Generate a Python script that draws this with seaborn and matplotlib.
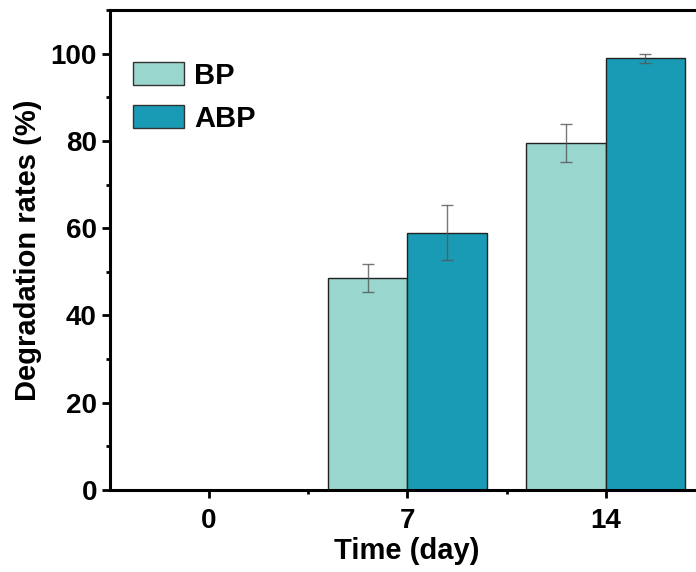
import numpy as np
import pandas as pd
import seaborn as sns
from matplotlib import pyplot as plt
from matplotlib.ticker import MultipleLocator
from matplotlib.patches import Patch

# 데이터
days = ['0', '7', '14']
bp_vals = [0, 48.6, 79.5]
abp_vals = [0, 59.0, 98.9]
bp_err = [0, 3.3, 4.3]
abp_err = [0, 6.4, 1.1]
groups = ['BP', 'ABP']
colors = ['#98D6CE', '#1A9BB5']

sns.set_theme(style='ticks')
plt.rcParams['font.family'] = ['Liberation Sans', 'DejaVu Sans']
plt.rcParams['font.weight'] = 'bold'
plt.rcParams['text.color'] = 'black'
plt.rcParams['axes.labelcolor'] = 'black'
plt.rcParams['xtick.color'] = 'black'
plt.rcParams['ytick.color'] = 'black'
plt.rcParams['axes.edgecolor'] = 'black'

df = pd.DataFrame({
    'day': days * 2,
    'group': ['BP'] * 3 + ['ABP'] * 3,
    'value': bp_vals + abp_vals,
})

fig = plt.figure(figsize=(6.96, 5.72), dpi=100)
ax = fig.add_axes([109.5 / 696, 1 - 490 / 572, 595.5 / 696, 480 / 572])

sns.barplot(data=df, x='day', y='value', hue='group', order=days, hue_order=groups,
            palette=colors, errorbar=None, edgecolor='#222222', linewidth=1.0,
            saturation=1, ax=ax, legend=False)

# 오차 막대
errs = [bp_err, abp_err]
for cont, err in zip(ax.containers, errs):
    for bar, e in zip(cont, err):
        if e == 0:
            continue
        cx = bar.get_x() + bar.get_width() / 2
        ax.errorbar(cx, bar.get_height(), yerr=e, fmt='none', ecolor='#555555',
                    elinewidth=1.0, capsize=4, capthick=1.0, alpha=0.8)

ax.set_xlim(-0.5, 2.5)
ax.set_ylim(0, 110)
ax.yaxis.set_major_locator(MultipleLocator(20))
ax.yaxis.set_minor_locator(MultipleLocator(10))
ax.set_xticks([0.5, 1.5], minor=True)

for s in ax.spines.values():
    s.set_linewidth(2.2)
    s.set_visible(True)
ax.tick_params(which='major', direction='out', length=6, width=2, labelsize=20, pad=3)
ax.tick_params(axis='x', which='major', pad=7)
ax.tick_params(which='minor', direction='out', length=3, width=2)
for lab in ax.get_xticklabels() + ax.get_yticklabels():
    lab.set_fontweight('bold')

ax.set_xlabel('Time (day)', fontsize=21, fontweight='bold', labelpad=2)
ax.set_ylabel('Degradation rates (%)', fontsize=21, fontweight='bold', labelpad=6)

handles = [Patch(facecolor=c, edgecolor='#333333', linewidth=1.0, label=g) for c, g in zip(colors, groups)]
ax.legend(handles=handles, loc='upper left', bbox_to_anchor=(0.005, 0.935), frameon=False,
          prop={'size': 21, 'weight': 'bold'}, handlelength=1.75, handleheight=0.85,
          labelspacing=0.52, handletextpad=0.35, borderaxespad=0.3)

plt.savefig('out.png', dpi=100)
